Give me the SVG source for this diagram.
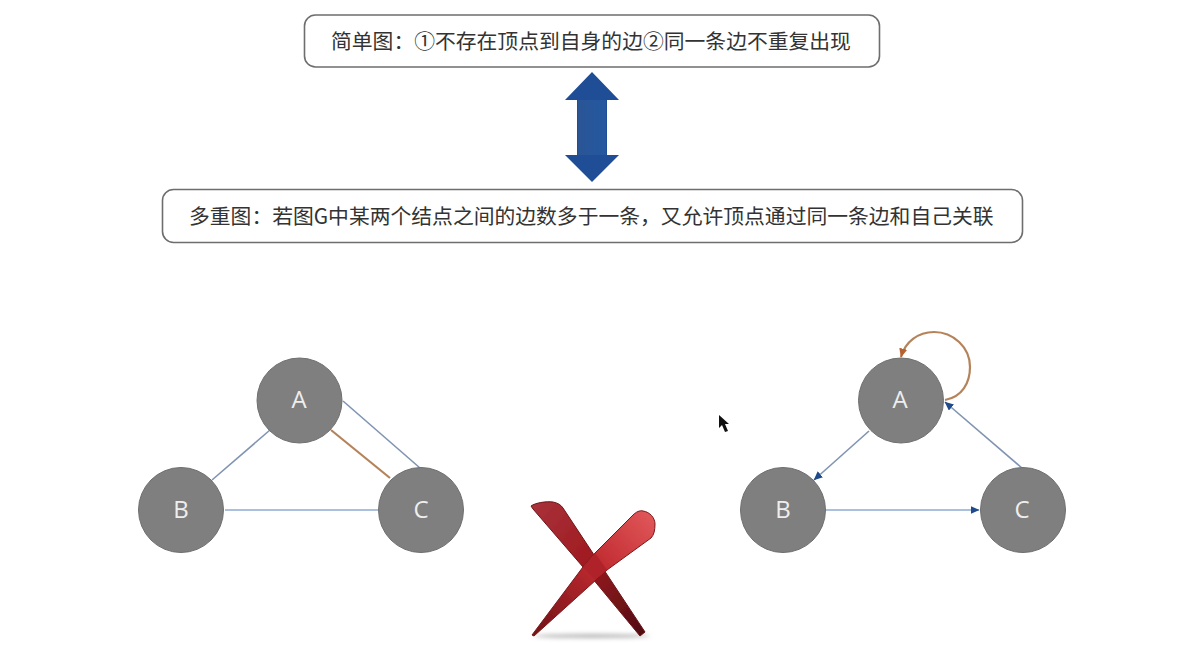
<svg xmlns="http://www.w3.org/2000/svg" width="1194" height="651" viewBox="0 0 1194 651">
<style>
.box{fill:#fff;stroke:#6e6e6e;stroke-width:1.6}
.lbl{font-family:"Noto Sans CJK SC","Liberation Sans",sans-serif;font-size:20.8px;fill:#333}
.node circle{fill:#7f7f7f;stroke:#6f6f6f;stroke-width:1}
.node text{font-family:"Open Sans","Liberation Sans",sans-serif;font-size:24px;fill:#eeeeee;text-anchor:middle}
.e{fill:none;stroke:#8094b2;stroke-width:1.6}
.h{stroke:#8fabd2}
.o{fill:none;stroke:#b5835a;stroke-width:2.2}
</style>
<defs>
<marker id="ab" markerWidth="10" markerHeight="8" refX="8.5" refY="4" orient="auto" markerUnits="userSpaceOnUse"><path d="M0 0L9 4L0 8Z" fill="#1f4a8c"/></marker>
<marker id="ao" markerWidth="10" markerHeight="8" refX="8.5" refY="4" orient="auto" markerUnits="userSpaceOnUse"><path d="M0 0L9 4L0 8Z" fill="#b8602f"/></marker>
<linearGradient id="shaft" x1="0" y1="0" x2="1" y2="0"><stop offset="0" stop-color="#2a5596"/><stop offset="1" stop-color="#2458a0"/></linearGradient>
<linearGradient id="xb" x1="0" y1="0" x2="1" y2="1"><stop offset="0" stop-color="#a8323a"/><stop offset=".45" stop-color="#a01c22"/><stop offset="1" stop-color="#4e0c10"/></linearGradient>
<linearGradient id="xf" x1="1" y1="0" x2="0" y2="1"><stop offset="0" stop-color="#e25a5c"/><stop offset=".45" stop-color="#c02a30"/><stop offset="1" stop-color="#6e1216"/></linearGradient>
<filter id="soft" x="-10%" y="-10%" width="120%" height="120%"><feGaussianBlur stdDeviation="0.6"/></filter>
<filter id="sh" x="-20%" y="-200%" width="140%" height="500%"><feGaussianBlur stdDeviation="2"/></filter>
</defs>
<rect width="1194" height="651" fill="#fff"/>

<g id="box-simple"><rect class="box" x="304.500" y="15" width="575" height="52" rx="11"/><text class="lbl" x="331" y="49">简单图&#xFF1A;①不存在顶点到自身的边②同一条边不重复出现</text></g>
<g id="box-multi"><rect class="box" x="162.500" y="189.500" width="860" height="53" rx="11"/><text class="lbl" x="189" y="223.500">多重图&#xFF1A;若图G中某两个结点之间的边数多于一条&#xFF0C;又允许顶点通过同一条边和自己关联</text></g>

<g id="double-arrow">
<path d="M592 72L619 100L607 100L607 155L619 155L592 182L565 155L577 155L577 100L565 100Z" fill="#1f4e96"/>
<rect x="578" y="100" width="28" height="55" fill="url(#shaft)"/>
</g>

<g id="connectors">
<path class="e" d="M270 430L212 480"/>
<path class="e h" d="M225 510L378 510"/>
<path class="e" d="M343 401L420 468"/>
<path class="o" d="M331 430L390 478"/>
<path class="e" d="M869 431L814 480" marker-end="url(#ab)"/>
<path class="e h" d="M826 510L979 510" marker-end="url(#ab)"/>
<path class="e" d="M1022 468L945 402" marker-end="url(#ab)"/>
<path class="o" d="M945 400C962 397 970 383 970 367C970 347 953 332 934 332C918 332 905 342 901 357" marker-end="url(#ao)"/>
</g>

<g id="left-A" class="node"><circle cx="299.500" cy="400.500" r="42.500"/><text x="299" y="408">A</text></g>
<g id="left-B" class="node"><circle cx="181" cy="510" r="42.500"/><text x="181" y="518">B</text></g>
<g id="left-C" class="node"><circle cx="421" cy="510" r="42.500"/><text x="421" y="518">C</text></g>
<g id="right-A" class="node"><circle cx="901" cy="400.500" r="42.500"/><text x="900" y="408">A</text></g>
<g id="right-B" class="node"><circle cx="783" cy="510" r="42.500"/><text x="783" y="518">B</text></g>
<g id="right-C" class="node"><circle cx="1023" cy="510" r="42.500"/><text x="1022" y="518">C</text></g>

<g id="cursor"><path d="M719 415L719 428L722 425L725 432L728 431L725 424L729 424Z" fill="#111"/></g>

<g id="cross">
<ellipse cx="592" cy="636" rx="58" ry="2" fill="#b5b5b5" filter="url(#sh)"/>
<g filter="url(#soft)">
<path d="M531 506C535 503 546 501 553 502C558 503 561 505 563 508L645 632L640 636L583 567L533 509Z" fill="url(#xb)" stroke="#6d1418" stroke-width="1"/>
<path d="M643 511C650 512 655 518 655 524C655 530 654 535 651 538L607 570L534 636L532 635L583 567L595 553L633 515C636 512 640 510 643 511Z" fill="url(#xf)" stroke="#7a1519" stroke-width="1"/>
<path d="M583 567L595 553L607 570L595 580Z" fill="#b02429"/>
</g>
</g>
</svg>
